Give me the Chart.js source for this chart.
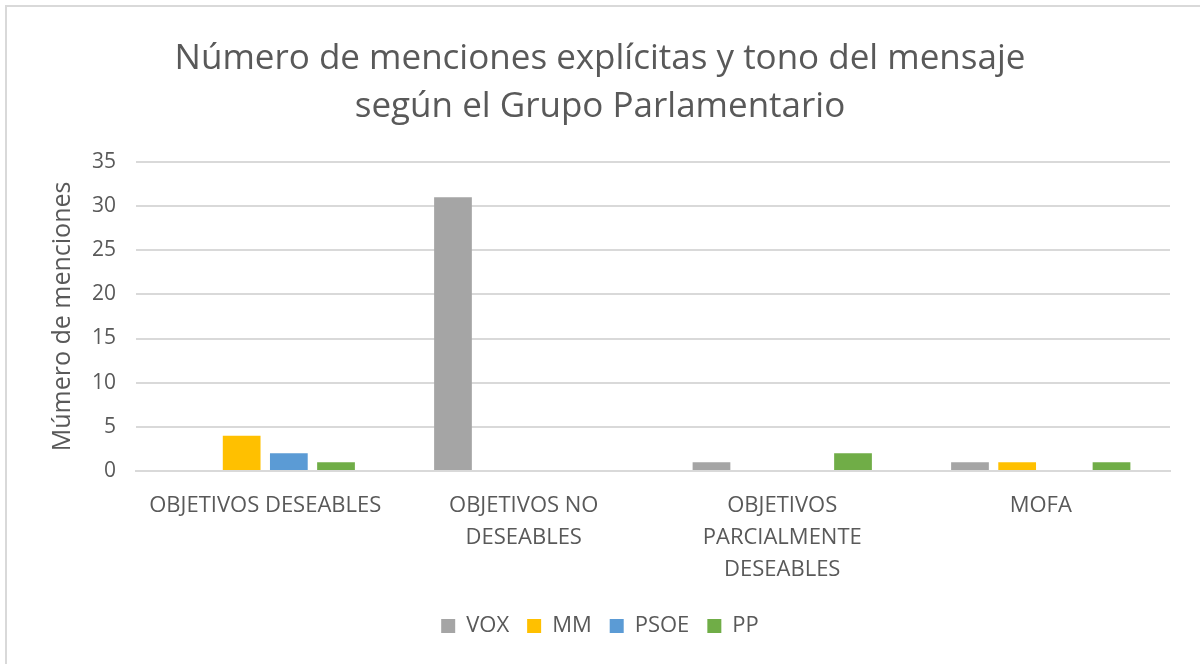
<!DOCTYPE html>
<html>
<head>
<meta charset="utf-8">
<script src="https://cdn.jsdelivr.net/npm/chart.js@4/dist/chart.umd.min.js"></script>
<style>
  body { margin: 0; background: #fff; }
  #wrap { position: relative; width: 1200px; height: 664px; overflow: hidden; }
  #frame { position: absolute; left: 5px; top: 5px; width: 1300px; height: 800px;
           border-top: 2px solid #d9d9d9; border-left: 2px solid #d9d9d9; }
  canvas { position: absolute; left: 0; top: 0; }
</style>
</head>
<body>
<div id="wrap">
  <div id="frame"></div>
  <canvas id="myChart" width="1200" height="664"></canvas>
</div>
<script>
// categories and series
var categorias = [
  ['OBJETIVOS DESEABLES'],
  ['OBJETIVOS NO', 'DESEABLES'],
  ['OBJETIVOS', 'PARCIALMENTE', 'DESEABLES'],
  ['MOFA']
];
var vox  = [0, 31, 1, 1];
var mm   = [4, 0, 0, 1];
var psoe = [2, 0, 0, 0];
var pp   = [1, 0, 2, 1];

var fuente = "'Open Sans', 'Noto Sans', sans-serif";
var gris = '#595959';

Chart.defaults.font.family = fuente;
Chart.defaults.color = gris;

var ctx = document.getElementById('myChart');
new Chart(ctx, {
  type: 'bar',
  data: {
    labels: categorias,
    datasets: [
      { label: 'VOX', data: vox, backgroundColor: '#A5A5A5' },
      { label: 'MM', data: mm, backgroundColor: '#FFC000' },
      { label: 'PSOE', data: psoe, backgroundColor: '#5B9BD5' },
      { label: 'PP', data: pp, backgroundColor: '#70AD47' }
    ]
  },
  options: {
    responsive: false,
    animation: false,
    datasets: {
      bar: { categoryPercentage: 0.73, barPercentage: 0.8, borderWidth: 0 }
    },
    layout: { padding: { left: 30, right: 30, top: 0, bottom: 17 } },
    plugins: {
      title: {
        display: true,
        text: ['Número de menciones explícitas y tono del mensaje', 'según el Grupo Parlamentario'],
        color: gris,
        font: { size: 35, weight: 'normal', lineHeight: 1.37 },
        padding: { top: 35, bottom: 31 }
      },
      legend: {
        display: true,
        position: 'bottom',
        align: 'center',
        labels: {
          boxWidth: 14,
          boxHeight: 14,
          padding: 18,
          color: gris,
          font: { size: 22 }
        }
      },
      tooltip: { enabled: false }
    },
    scales: {
      x: {
        grid: { display: false, drawTicks: false },
        border: { display: true, color: '#d9d9d9', width: 2 },
        ticks: {
          color: gris,
          font: { size: 22, lineHeight: 1.455 },
          padding: 19,
          maxRotation: 0,
          autoSkip: false
        },
        afterFit: function (scale) { scale.height -= 8; }
      },
      y: {
        min: 0,
        max: 35,
        ticks: { stepSize: 5, color: gris, font: { size: 21 }, padding: 20 },
        grid: { color: '#d9d9d9', lineWidth: 2, drawTicks: false },
        border: { display: false },
        title: {
          display: true,
          text: 'Múmero de menciones',
          color: gris,
          font: { size: 25 },
          padding: { top: 18, bottom: 0 }
        },
        afterFit: function (scale) { scale.width = 106; }
      }
    }
  }
});
</script>
</body>
</html>
